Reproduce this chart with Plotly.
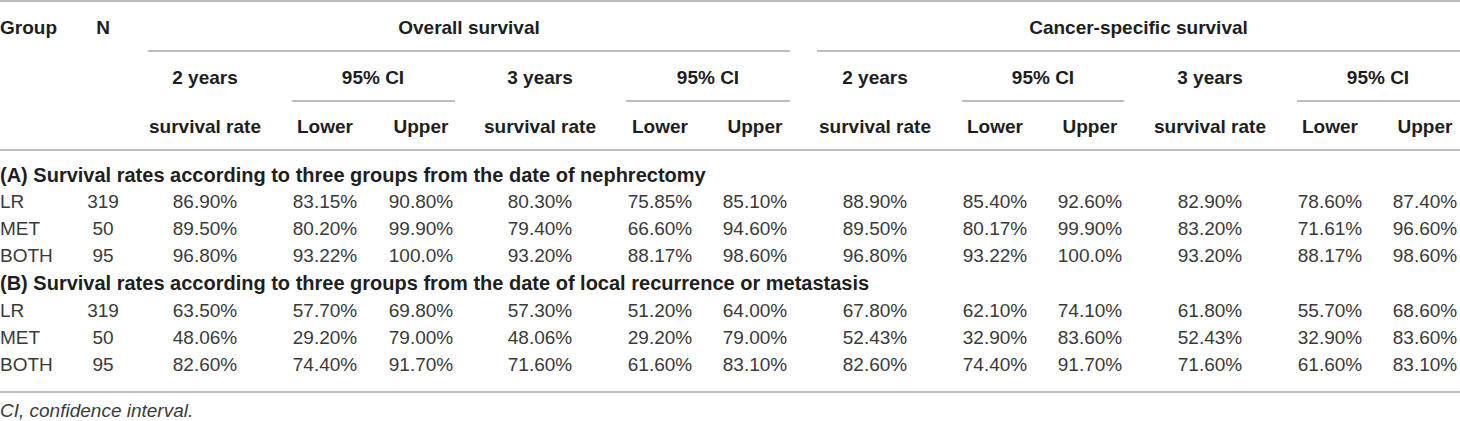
import plotly.graph_objects as go

# ---------------- data ----------------
groups = ["LR", "MET", "BOTH"]
n_values = ["319", "50", "95"]

section_a = "(A) Survival rates according to three groups from the date of nephrectomy"
section_b = "(B) Survival rates according to three groups from the date of local recurrence or metastasis"

# Overall survival: 2y rate, lower, upper, 3y rate, lower, upper
os_a = [
    ["86.90%", "83.15%", "90.80%", "80.30%", "75.85%", "85.10%"],
    ["89.50%", "80.20%", "99.90%", "79.40%", "66.60%", "94.60%"],
    ["96.80%", "93.22%", "100.0%", "93.20%", "88.17%", "98.60%"],
]
# Cancer-specific survival
css_a = [
    ["88.90%", "85.40%", "92.60%", "82.90%", "78.60%", "87.40%"],
    ["89.50%", "80.17%", "99.90%", "83.20%", "71.61%", "96.60%"],
    ["96.80%", "93.22%", "100.0%", "93.20%", "88.17%", "98.60%"],
]
os_b = [
    ["63.50%", "57.70%", "69.80%", "57.30%", "51.20%", "64.00%"],
    ["48.06%", "29.20%", "79.00%", "48.06%", "29.20%", "79.00%"],
    ["82.60%", "74.40%", "91.70%", "71.60%", "61.60%", "83.10%"],
]
css_b = [
    ["67.80%", "62.10%", "74.10%", "61.80%", "55.70%", "68.60%"],
    ["52.43%", "32.90%", "83.60%", "52.43%", "32.90%", "83.60%"],
    ["82.60%", "74.40%", "91.70%", "71.60%", "61.60%", "83.10%"],
]

header_top = ["Group", "N", "Overall survival", "Cancer-specific survival"]
header_mid = ["2 years", "95% CI", "3 years", "95% CI"]
header_low = ["survival rate", "Lower", "Upper"]
footnote = "CI, confidence interval."

# ---------------- layout constants ----------------
W, H = 1460, 421
FONT = "Arial, Liberation Sans, Helvetica, sans-serif"
FS = 19
BODY = "#3a3a3a"
HEAD = "#1e1e1e"
LINE = "#a8a8a8"

col_x = [205, 325, 421, 540, 660, 755, 875, 995, 1090, 1210, 1330, 1425]
n_x = 103
y_top, y_mid, y_low = 29, 79, 128
row_y_a = [203, 230, 257]
row_y_b = [312, 339, 366]
y_sec_a, y_sec_b = 177, 285
y_foot = 412

fig = go.Figure()


def add_text(xs, ys, texts, pos="middle center", color=BODY, bold=False, italic=False, size=FS):
    fig.add_trace(go.Scatter(
        x=xs, y=ys, text=[f"<b>{t}</b>" if bold else (f"<i>{t}</i>" if italic else t) for t in texts],
        mode="text", textposition=pos, hoverinfo="skip", showlegend=False,
        textfont=dict(family=FONT, size=size, color=color),
        cliponaxis=False,
    ))


# headers
add_text([0], [y_top], [header_top[0]], pos="middle right", color=HEAD, bold=True)
add_text([n_x], [y_top], [header_top[1]], color=HEAD, bold=True)
add_text([(148 + 790) / 2, (817 + 1460) / 2], [y_top, y_top], header_top[2:], color=HEAD, bold=True)

mid_x = [205, 373, 540, 708, 875, 1043, 1210, 1378]
add_text(mid_x, [y_mid] * 8, header_mid * 2, color=HEAD, bold=True)
add_text(col_x, [y_low] * 12, header_low * 4, color=HEAD, bold=True)

# section labels
add_text([0, 0], [y_sec_a, y_sec_b], [section_a, section_b], pos="middle right",
         color=HEAD, bold=True, size=20)

# body rows
for rows_os, rows_css, ys in [(os_a, css_a, row_y_a), (os_b, css_b, row_y_b)]:
    add_text([0] * 3, ys, groups, pos="middle right")
    add_text([n_x] * 3, ys, n_values)
    for j in range(6):
        add_text([col_x[j]] * 3, ys, [r[j] for r in rows_os])
        add_text([col_x[j + 6]] * 3, ys, [r[j] for r in rows_css])

add_text([0], [y_foot], [footnote], pos="middle right", italic=True)

# rules
def hline(x0, x1, y, w=1.3, c=LINE):
    fig.add_shape(type="line", xref="x", yref="y", x0=x0, x1=x1, y0=y, y1=y,
                  line=dict(color=c, width=w))

hline(0, W, 1, 1.6)
hline(148, 790, 51)
hline(817, W, 51)
for a, b in [(292, 455), (626, 790), (962, 1124), (1297, W)]:
    hline(a, b, 101)
hline(0, W, 150, 1.4)
hline(0, W, 392, 1.4)

fig.update_layout(
    width=W, height=H,
    margin=dict(l=0, r=0, t=0, b=0),
    paper_bgcolor="white", plot_bgcolor="white",
    xaxis=dict(range=[0, W], visible=False, fixedrange=True),
    yaxis=dict(range=[H, 0], visible=False, fixedrange=True),
)

fig.write_html(
    "out.html",
    config={"displayModeBar": False},
    post_script="document.body.style.margin='0';document.body.style.overflow='hidden';",
)
